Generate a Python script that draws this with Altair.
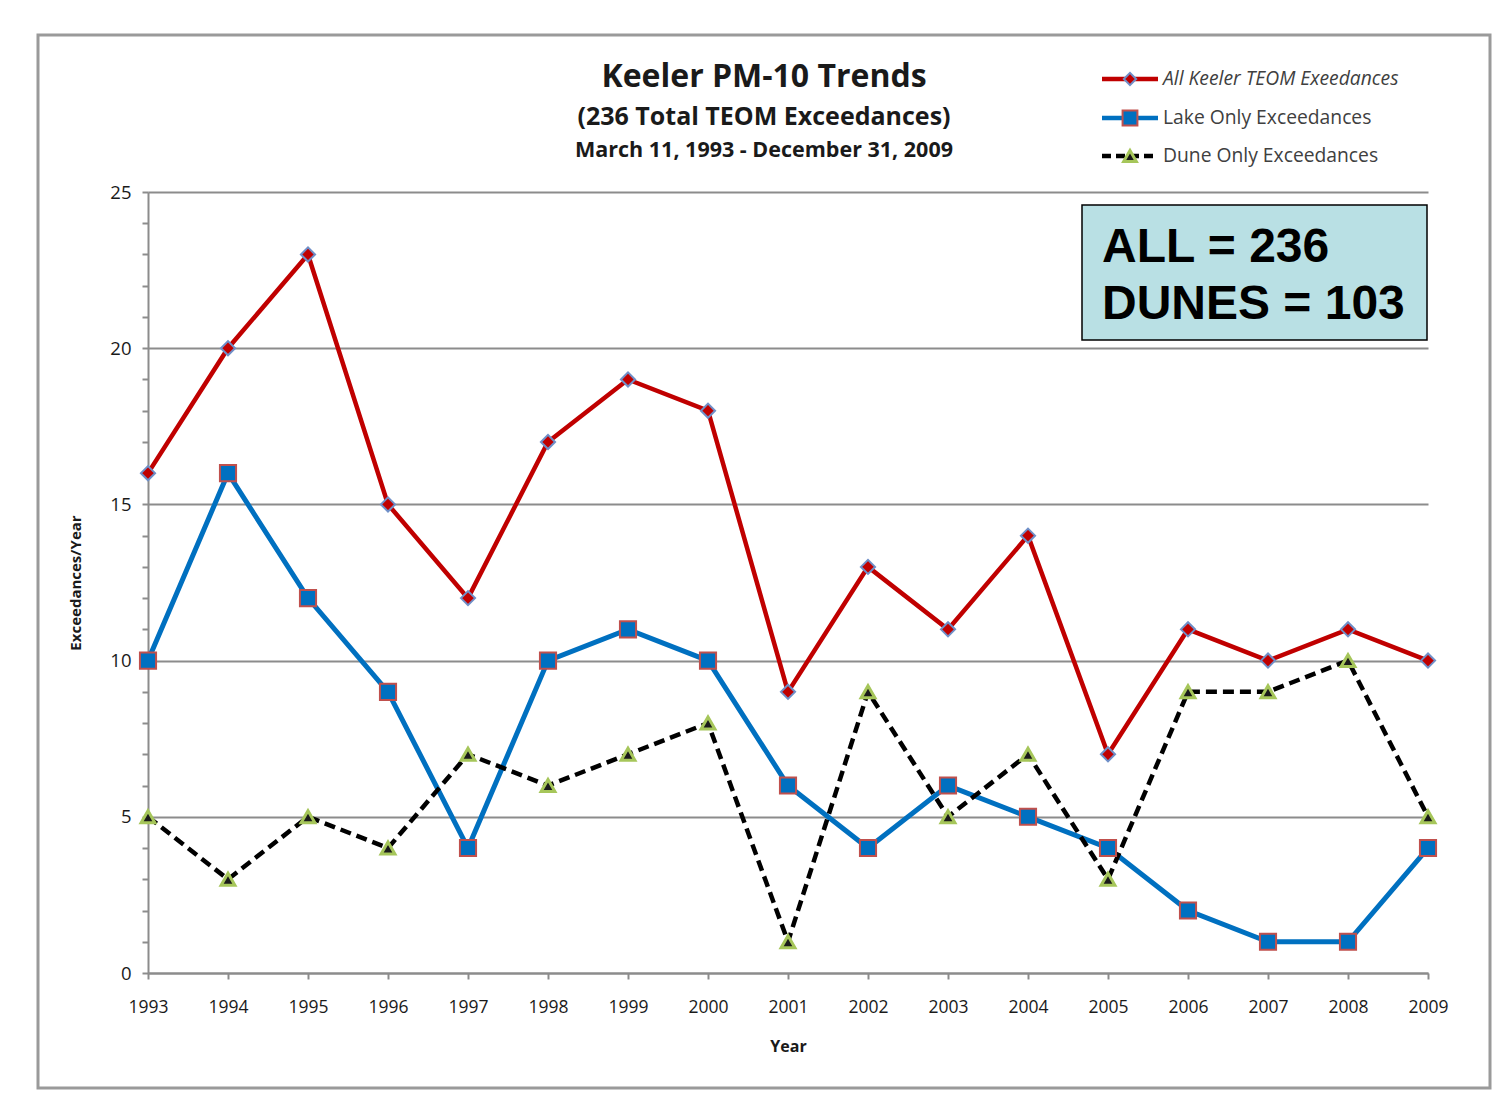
import altair as alt
import pandas as pd

years = list(range(1993, 2010))
all_keeler = [16, 20, 23, 15, 12, 17, 19, 18, 9, 13, 11, 14, 7, 11, 10, 11, 10]
lake_only = [10, 16, 12, 9, 4, 10, 11, 10, 6, 4, 6, 5, 4, 2, 1, 1, 4]
dune_only = [5, 3, 5, 4, 7, 6, 7, 8, 1, 9, 5, 7, 3, 9, 9, 10, 5]

title_lines = ["Keeler PM-10 Trends", "(236 Total TEOM Exceedances)", "March 11, 1993 - December 31, 2009"]
legend_labels = ["All Keeler TEOM Exeedances", "Lake Only Exceedances", "Dune Only Exceedances"]
box_lines = ["ALL = 236", "DUNES = 103"]

df = pd.DataFrame({"Year": years, "All": all_keeler, "Lake": lake_only, "Dune": dune_only})

RED = "#c00000"
BLUE = "#0070c0"
FONT = "Open Sans"
GRAY = "#8c8c8c"

W, H = 1280, 781

x_enc = alt.X("Year:Q", scale=alt.Scale(domain=[1993, 2009], nice=False, zero=False),
              axis=alt.Axis(values=years, format="d", title="Year", grid=False,
                            domainColor=GRAY, domainWidth=2, tickColor=GRAY, tickWidth=2, tickSize=6,
                            labelFont=FONT, labelFontSize=17.5, labelColor="#1a1a1a", labelPadding=19,
                            labelFlush=False, titleFont=FONT, titleFontSize=16, titleFontWeight="bold",
                            titleColor="#1a1a1a", titlePadding=23))

def y_enc(field):
    return alt.Y(f"{field}:Q", scale=alt.Scale(domain=[0, 25], nice=False),
                 axis=alt.Axis(values=list(range(0, 26)), title="Exceedances/Year",
                               labelExpr="datum.value % 5 === 0 ? datum.label : ''",
                               grid=True, gridColor=GRAY, gridWidth=2,
                               gridOpacity={"condition": {"test": "datum.value % 5 === 0", "value": 1}, "value": 0},
                               domainColor=GRAY, domainWidth=2, tickColor=GRAY, tickWidth=2, tickSize=6,
                               labelFont=FONT, labelFontSize=18.5, labelColor="#1a1a1a", labelPadding=11,
                               labelFlush=False,
                               titleFont=FONT, titleFontSize=15, titleFontWeight="bold",
                               titleColor="#1a1a1a", titlePadding=26))

base = alt.Chart(df)

line_all = base.mark_line(color=RED, strokeWidth=4.5).encode(x=x_enc, y=y_enc("All"))
line_lake = base.mark_line(color=BLUE, strokeWidth=5).encode(x=x_enc, y=y_enc("Lake"))
line_dune = base.mark_line(color="#000000", strokeWidth=4.5, strokeDash=[11, 6]).encode(x=x_enc, y=y_enc("Dune"))

pt_all = base.mark_point(shape="diamond", filled=True, fill=RED, stroke="#6f8fc8", strokeWidth=2,
                         size=200, opacity=1).encode(x=x_enc, y=y_enc("All"))
pt_lake = base.mark_point(shape="square", filled=True, fill=BLUE, stroke="#c0504d", strokeWidth=2,
                          size=260, opacity=1).encode(x=x_enc, y=y_enc("Lake"))
pt_dune = base.mark_point(shape="triangle-up", filled=True, fill="#1a1a1a", stroke="#a6c65a", strokeWidth=3,
                          size=190, opacity=1).encode(x=x_enc, y=y_enc("Dune"))

# outer frame
frame = alt.Chart(pd.DataFrame({"a": [0]})).mark_rect(fill=None, stroke="#9a9a9a", strokeWidth=3).encode(
    x=alt.value(-110), x2=alt.value(1342), y=alt.value(-157), y2=alt.value(896))

# title lines
title_sizes = [32, 25, 21.5]
title_ys = [-115, -75, -41]
titles = [
    alt.Chart(pd.DataFrame({"t": [t]})).mark_text(font=FONT, fontSize=s, fontWeight="bold", color="#1a1a1a",
                                                   align="center", baseline="middle").encode(
        text="t:N", x=alt.value(616), y=alt.value(yv))
    for t, s, yv in zip(title_lines, title_sizes, title_ys)
]

# legend
leg_ys = [-113, -74, -36]
leg_colors = [RED, BLUE, "#000000"]
leg_dash = [[1, 0], [1, 0], [9, 5]]
legend_layers = []
for lab, yv, c, d, i in zip(legend_labels, leg_ys, leg_colors, leg_dash, range(3)):
    legend_layers.append(
        alt.Chart(pd.DataFrame({"a": [0]})).mark_rule(color=c, strokeWidth=4.5, strokeDash=d).encode(
            x=alt.value(954), x2=alt.value(1010), y=alt.value(yv)))
    legend_layers.append(
        alt.Chart(pd.DataFrame({"t": [lab]})).mark_text(font=FONT, fontSize=19.3, color="#404040",
                                                         fontStyle="italic" if i == 0 else "normal",
                                                         align="left", baseline="middle").encode(
            text="t:N", x=alt.value(1015), y=alt.value(yv)))
legend_layers.append(alt.Chart(pd.DataFrame({"a": [0]})).mark_point(
    shape="diamond", filled=True, fill=RED, stroke="#6f8fc8", strokeWidth=2, size=150, opacity=1).encode(
    x=alt.value(982), y=alt.value(leg_ys[0])))
legend_layers.append(alt.Chart(pd.DataFrame({"a": [0]})).mark_point(
    shape="square", filled=True, fill=BLUE, stroke="#c0504d", strokeWidth=2, size=220, opacity=1).encode(
    x=alt.value(982), y=alt.value(leg_ys[1])))
legend_layers.append(alt.Chart(pd.DataFrame({"a": [0]})).mark_point(
    shape="triangle-up", filled=True, fill="#1a1a1a", stroke="#a6c65a", strokeWidth=3, size=160, opacity=1).encode(
    x=alt.value(982), y=alt.value(leg_ys[2])))

# annotation box
box = alt.Chart(pd.DataFrame({"a": [0]})).mark_rect(fill="#b9e0e4", stroke="#000000", strokeWidth=1.5).encode(
    x=alt.value(934), x2=alt.value(1279), y=alt.value(13), y2=alt.value(148))
box_texts = [
    alt.Chart(pd.DataFrame({"t": [t]})).mark_text(font="Liberation Sans", fontSize=48, fontWeight="bold",
                                                   color="#000000", align="left", baseline="alphabetic").encode(
        text="t:N", x=alt.value(954), y=alt.value(yv))
    for t, yv in zip(box_lines, [70, 127])
]

chart = alt.layer(
    frame, line_all, line_lake, line_dune, pt_all, pt_lake, pt_dune,
    *titles, *legend_layers, box, *box_texts
).properties(
    width=W, height=H,
    padding={"left": 140, "top": 184, "right": 65, "bottom": 129},
    autosize=alt.AutoSizeParams(type="none"),
    background="#ffffff"
).configure_view(stroke=None)

chart.save("out.html", embed_options={"renderer": "svg", "actions": False})
